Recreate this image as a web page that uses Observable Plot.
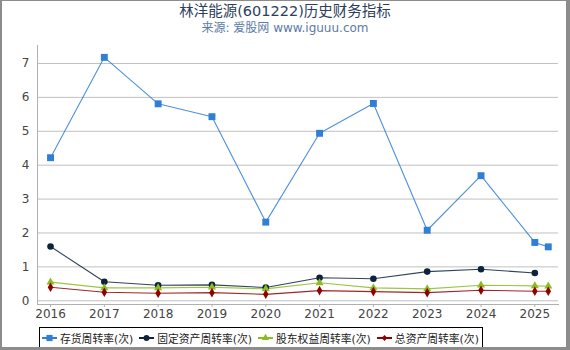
<!DOCTYPE html>
<html><head><meta charset="utf-8">
<script src="https://cdn.jsdelivr.net/npm/d3@7"></script>
<script src="https://cdn.jsdelivr.net/npm/@observablehq/plot@0.6"></script>
<style>
body{margin:0;background:#fff;font-family:"DejaVu Sans","Noto Sans CJK SC",sans-serif;}
#wrap{position:relative;width:570px;height:350px;overflow:hidden;background:#fff}
#frame{position:absolute;left:0;top:0;right:0;bottom:0;border-style:solid;border-color:#8c8c8c;border-width:1px 4px 3px 2px;pointer-events:none;box-sizing:border-box}
#title{position:absolute;top:2px;left:0;width:570px;text-align:center;font-size:14.5px;color:#2c3e5c;line-height:18px;white-space:nowrap}
#subtitle{position:absolute;top:20px;left:0;width:570px;text-align:center;font-size:12px;color:#5b7ba6;line-height:16px;white-space:nowrap}
#chart{position:absolute;top:40px;left:0}
#legend{position:absolute;left:39px;top:327px;width:444px;height:21px;border:1px solid #000;box-sizing:border-box;display:flex;align-items:center;font-size:10.8px;color:#222;padding-left:2px;white-space:nowrap}
.item{display:flex;align-items:center;margin-right:6px}
.item svg{margin-right:3px}
</style>
</head><body>
<div id="wrap">
  <div id="title">林洋能源(601222)历史财务指标</div>
  <div id="subtitle">来源: 爱股网 www.iguuu.com</div>
  <div id="chart"></div>
  <div id="legend"></div>
  <div id="frame"></div>
</div>
<script>
const periods = [2016, 2017, 2018, 2019, 2020, 2021, 2022, 2023, 2024, 2025, 2025.25];
const xTickYears = [2016, 2017, 2018, 2019, 2020, 2021, 2022, 2023, 2024, 2025];
const yTicks = [0, 1, 2, 3, 4, 5, 6, 7];
const seriesNames = ["存货周转率(次)", "固定资产周转率(次)", "股东权益周转率(次)", "总资产周转率(次)"];
const inventoryTurnover = [4.22, 7.18, 5.81, 5.43, 2.32, 4.94, 5.82, 2.08, 3.69, 1.72, 1.59];
const fixedAssetTurnover = [1.60, 0.56, 0.46, 0.47, 0.39, 0.68, 0.65, 0.86, 0.93, 0.82, null];
const equityTurnover = [0.55, 0.38, 0.38, 0.40, 0.35, 0.53, 0.38, 0.35, 0.46, 0.44, 0.43];
const totalAssetTurnover = [0.40, 0.25, 0.22, 0.24, 0.19, 0.30, 0.27, 0.24, 0.31, 0.28, 0.28];

const colors = ["#2f7ed8", "#0d233a", "#8bbc21", "#910000"];
const symbols = ["square", "circle", "triangle", "diamond"];
const radii = [3.9, 3.3, 3.0, 2.9];
const valuesList = [inventoryTurnover, fixedAssetTurnover, equityTurnover, totalAssetTurnover];

const rows = [];
valuesList.forEach((vals, si) => {
  vals.forEach((v, i) => {
    if (v != null) rows.push({series: seriesNames[si], si, x: periods[i], y: v});
  });
});

const marks = [
  Plot.gridY(yTicks, {stroke: "#c0c0c0", strokeOpacity: 1, strokeWidth: 1}),
  Plot.frame({anchor: "left", stroke: "#b0b0b0"}),
  Plot.frame({anchor: "bottom", stroke: "#b0b0b0"}),
  Plot.axisY(yTicks, {tickSize: 0, tickPadding: 8, fontSize: 12, fill: "#444", label: null}),
  Plot.axisX(xTickYears, {tickSize: 3, tickPadding: 2, fontSize: 12, fill: "#444", stroke: "#b0b0b0", label: null, tickFormat: d => String(d)})
];
seriesNames.forEach((name, si) => {
  const d = rows.filter(r => r.si === si);
  marks.push(Plot.line(d, {x: "x", y: "y", stroke: colors[si], strokeWidth: 1.1, strokeOpacity: 0.85}));
});
seriesNames.forEach((name, si) => {
  const d = rows.filter(r => r.si === si);
  marks.push(Plot.dot(d, {x: "x", y: "y", fill: colors[si], stroke: "none", symbol: symbols[si], r: radii[si]}));
});

const chart = Plot.plot({
  width: 570,
  height: 284,
  marginTop: 5,
  marginBottom: 20,
  marginLeft: 37,
  marginRight: 12,
  style: {fontFamily: '"DejaVu Sans","Noto Sans CJK SC",sans-serif', background: "transparent"},
  x: {domain: [2015.758, 2025.44], axis: null, label: null},
  y: {domain: [-0.11, 7.53], axis: null, label: null},
  marks
});
document.getElementById("chart").appendChild(chart);

// legend
const legend = document.getElementById("legend");
seriesNames.forEach((name, si) => {
  const item = document.createElement("div");
  item.className = "item";
  const sym = d3.symbol().type({square: d3.symbolSquare, circle: d3.symbolCircle, triangle: d3.symbolTriangle, diamond: d3.symbolDiamond2}[symbols[si]]).size(Math.PI * radii[si] * radii[si] * 0.8)();
  item.innerHTML = `<svg width="15" height="10"><line x1="0" x2="15" y1="5" y2="5" stroke="${colors[si]}" stroke-width="2"/><path d="${sym}" transform="translate(7.5,5)" fill="${colors[si]}"/></svg><span>${name}</span>`;
  legend.appendChild(item);
});
</script>
</body></html>
